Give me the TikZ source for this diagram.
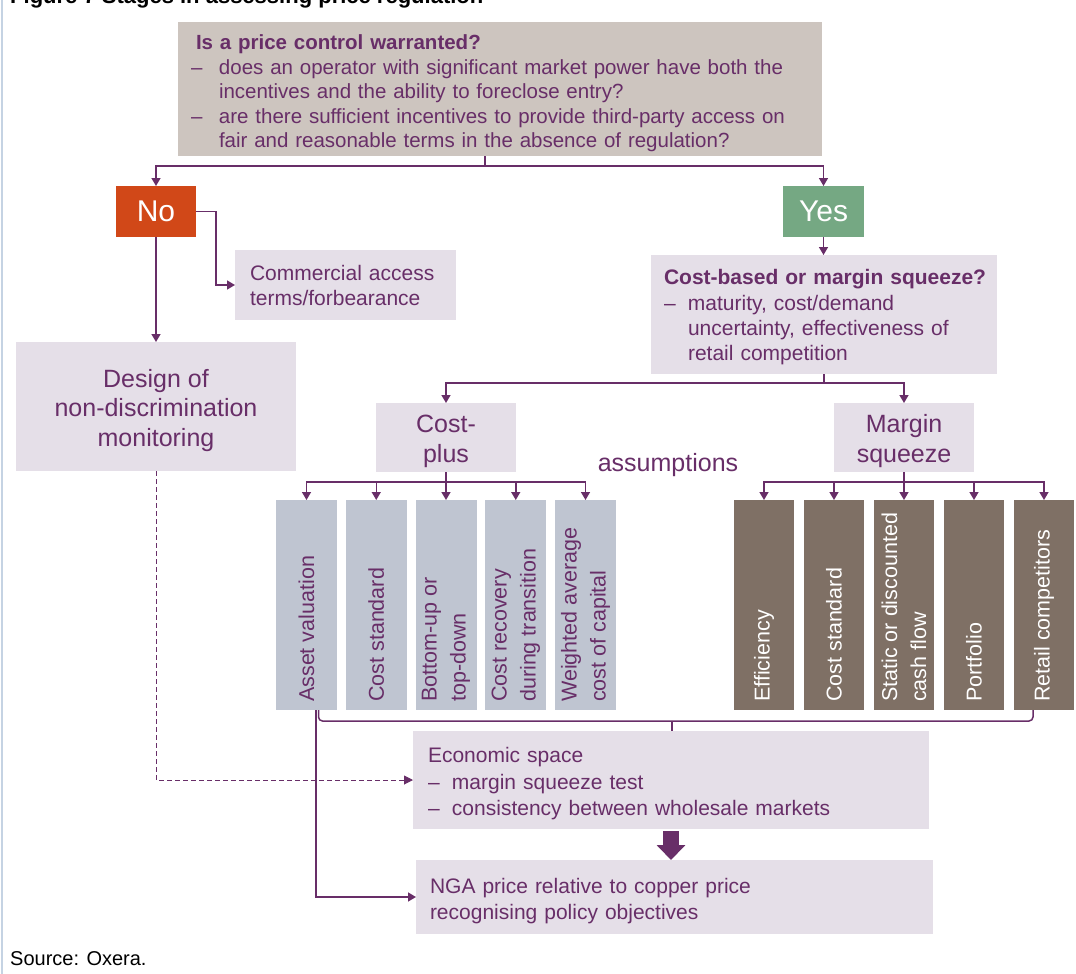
\documentclass[tikz,border=0pt]{standalone}
\usepackage{fontspec}
\setmainfont{Liberation Sans}
\usetikzlibrary{arrows.meta,positioning}

\definecolor{ink}{RGB}{104,46,104}
\definecolor{lavender}{RGB}{229,223,232}
\definecolor{topgrey}{RGB}{205,197,191}
\definecolor{nored}{RGB}{209,72,24}
\definecolor{yesgreen}{RGB}{117,168,131}
\definecolor{steel}{RGB}{191,197,209}
\definecolor{bark}{RGB}{127,112,101}
\definecolor{framecol}{RGB}{197,211,227}

\newcommand{\fsz}[2]{\fontsize{#1}{#2}\selectfont}

\begin{document}
\begin{tikzpicture}[x=1pt, y=-1pt,
    panel/.style={anchor=north west, inner sep=0pt, outer sep=0pt, text=ink},
    lavbox/.style={panel, fill=lavender},
    answer/.style={panel, text=white, minimum width=80pt, minimum height=51pt, font=\fsz{30}{30}},
    itembox/.style={panel, minimum width=61pt, minimum height=210pt},
    vlabel/.style={rotate=90, anchor=west, align=left, inner sep=0pt, font=\fsz{21.5}{29}},
    link/.style={draw=ink, line width=1.5pt},
    arrow/.style={link, -{Triangle[width=9pt,length=8pt]}},
    dasharrow/.style={draw=ink, line width=1pt, dash pattern=on 5pt off 3pt, -{Triangle[width=9pt,length=9pt]}}
]
\clip (0,0) rectangle (1076,974);
\draw[framecol, line width=1.2pt] (2,0) -- (2,974);
\node[anchor=base west, inner sep=0pt, font=\bfseries\fsz{22}{22}] (title) at (10,3.5) {Figure 7 Stages in assessing price regulation};

% question and answers
\node[panel, fill=topgrey, text width=618pt, inner xsep=13pt, minimum height=134pt, align=left, font=\fsz{20.5}{24.5}] (question) at (178,22)
  {\rule{0pt}{24pt}\hspace*{5pt}\textbf{Is a price control warranted?}\\
   \makebox[28pt][l]{–}does an operator with significant market power have both the\\
   \hspace*{28pt}incentives and the ability to foreclose entry?\\
   \makebox[28pt][l]{–}are there sufficient incentives to provide third-party access on\\
   \hspace*{28pt}fair and reasonable terms in the absence of regulation?};
\node[answer, fill=nored] (no) at (116,186) {No};
\node[answer, fill=yesgreen, minimum width=81pt] (yes) at (783,186) {Yes};

\node[lavbox, text width=191pt, inner xsep=15pt, minimum height=70pt, align=left, font=\fsz{21}{25}] (commercial) at (235,250) {Commercial access\\terms/forbearance};
\node[lavbox, minimum width=280pt, minimum height=129pt, align=center, font=\fsz{25}{29.5}] (design) at (16,342) {\rule{0pt}{26pt}Design of\\non-discrimination\\monitoring};
\node[lavbox, text width=320pt, inner xsep=13pt, minimum height=119pt, align=left, font=\fsz{21}{25.3}] (basis) at (651,255)
  {\rule{0pt}{21pt}\mbox{\textbf{Cost-based or margin squeeze?}}\\
   \makebox[24pt][l]{–}maturity, cost/demand\\
   \hspace*{24pt}uncertainty, effectiveness of\\
   \hspace*{24pt}retail competition};

\node[lavbox, minimum width=140pt, minimum height=69pt, align=center, font=\fsz{25}{30}] (costplus) at (376,403) {\rule{0pt}{26pt}Cost-\\plus};
\node[lavbox, minimum width=140pt, minimum height=69pt, align=center, font=\fsz{25}{30}] (squeeze) at (834,403) {\rule{0pt}{26pt}Margin\\squeeze};
\node[text=ink, inner sep=0pt, font=\fsz{25}{30}] (assume) at (668,465) {assumptions};

% assumption columns
\foreach \i/\txt in {1/Asset valuation, 2/Cost standard, 3/{Bottom-up or\\top-down}, 4/{Cost recovery\\during transition}, 5/{Weighted average\\cost of capital}}{
  \node[itembox, fill=steel] (c\i) at ({276+(\i-1)*69.75},500) {};
  \node[vlabel, text=ink] at ([yshift=8pt]c\i.south) {\txt};
}
\foreach \i/\txt in {1/Efficiency, 2/Cost standard, 3/{Static or discounted\\cash flow}, 4/Portfolio, 5/Retail competitors}{
  \node[itembox, fill=bark, minimum width=60pt] (m\i) at ({734+(\i-1)*70},500) {};
  \node[vlabel, text=white] at ([yshift=8pt]m\i.south) {\txt};
}

\node[lavbox, text width=486pt, inner xsep=15pt, minimum height=98pt, align=left, font=\fsz{21}{26.5}] (econ) at (413,731)
  {\rule{0pt}{23pt}Economic space\\
   \makebox[24pt][l]{–}margin squeeze test\\
   \makebox[24pt][l]{–}consistency between wholesale markets};
\node[lavbox, text width=489pt, inner xsep=14pt, minimum height=74pt, align=left, font=\fsz{21}{26}] (nga) at (416,860)
  {\rule{0pt}{23pt}NGA price relative to copper price\\recognising policy objectives};

\node[anchor=base west, inner sep=0pt, font=\fsz{20}{20}] (source) at (10,965) {Source: Oxera.};

% connectors
\coordinate (split) at (485,166);
\draw[link] (question.south -| split) -- (split);
\draw[arrow] (split) -| (no.north);
\draw[arrow] (split) -| (yes.north);
\draw[arrow] (no.east) -- ++(20,0) |- (commercial.west);
\draw[arrow] (no.south) -- (design.north);
\draw[dasharrow] (design.south) |- (econ.west);
\draw[arrow] (yes.south) -- (yes.south |- basis.north);

\coordinate (fork) at (824,383);
\draw[link] (basis.south) -- (fork);
\draw[arrow] (fork) -| (costplus.north);
\draw[arrow] (fork) -| (squeeze.north);
\foreach \i in {1,...,5}{
  \draw[arrow] (costplus.south) -- ++(0,10) -| (c\i.north);
  \draw[arrow] (squeeze.south) -- ++(0,10) -| (m\i.north);
}

\coordinate (join) at (672,721);
\draw[link, rounded corners=4pt] ([xshift=12pt]c1.south) |- (join) -| ([xshift=-11pt]m5.south);
\draw[link] (join) -- (join |- econ.north);
\draw[arrow] ([xshift=9.5pt]c1.south) |- (nga.west);
\draw[draw=ink, line width=16pt, shorten <=2pt, -{Triangle[width=28pt,length=15pt]}] (econ.south) -- (econ.south |- nga.north);

\end{tikzpicture}
\end{document}
